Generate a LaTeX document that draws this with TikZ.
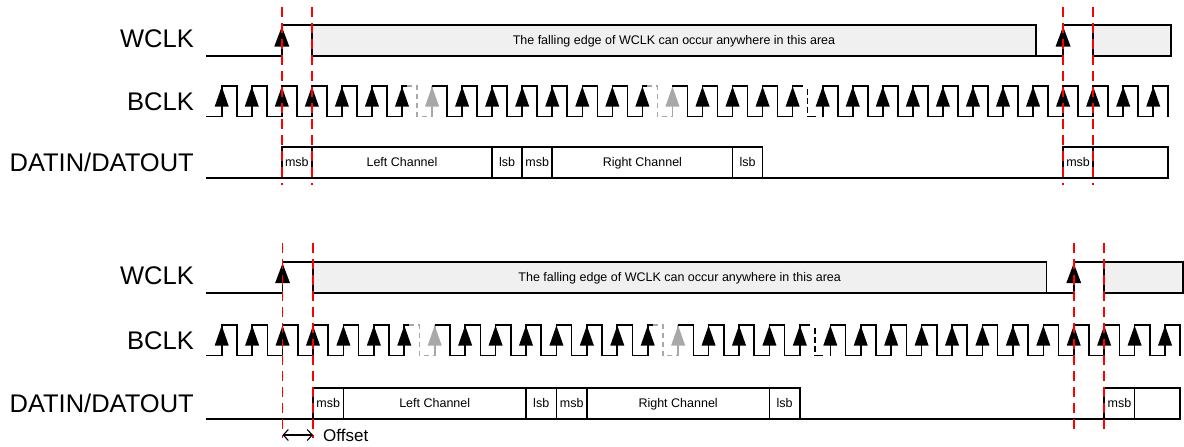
\documentclass[tikz,border=0pt]{standalone}
\usepackage{fontspec}
\setmainfont{Liberation Sans}
\usetikzlibrary{arrows.meta}
\definecolor{boxgray}{HTML}{F0F0F0}
\definecolor{ghost}{HTML}{A8A8A8}
\definecolor{guidered}{HTML}{FF0000}
\tikzset{
  wave/.style={line width=1.6pt, line join=miter, black},
  ghostwave/.style={line width=1.6pt, ghost, dash pattern=on 5pt off 4pt},
  brk/.style={line width=1.6pt, black, dash pattern=on 6pt off 3pt},
  guide/.style={draw=guidered, line width=1.5pt, dash pattern=on 10pt off 6pt},
  sig/.style={anchor=base east, font=\fontsize{25.5}{28}\selectfont, inner sep=0pt},
  small/.style={anchor=base, font=\fontsize{12.5}{14}\selectfont, inner sep=0pt},
  area/.style={wave, fill=boxgray},
}
\newcommand\upmark[4]{\fill[#4] (#1-#3,#2+20) -- (#1,#2) -- (#1+#3,#2+20) -- cycle;}
% #1 period, #2 WCLK high y, #3 BCLK high y, #4 DATA top y, #5 data start index,
% #6 guide top, #7 guide bottom (left), #8 guide bottom (right), #9 name suffix
\newcommand\timing[9]{%
\pgfmathsetmacro\tmP{#1}%
\pgfmathsetmacro\tmWl{#2+31}%
\pgfmathsetmacro\tmBl{#3+30.5}%
\pgfmathsetmacro\tmDl{#4+31}%
\pgfmathsetmacro\xWr{221.7+2*\tmP}%
\pgfmathsetmacro\xWf{221.7+3*\tmP}%
\pgfmathsetmacro\xWe{221.7+27.1*\tmP}%
\pgfmathsetmacro\xWrr{221.7+28*\tmP}%
\pgfmathsetmacro\xWff{221.7+29*\tmP}%
\pgfmathsetmacro\xWend{221.7+31.6*\tmP}%
\pgfmathsetmacro\xEnd{221.7+31.5*\tmP}%
% labels
\node[sig] (wl#9) at (194,#2+22.5) {WCLK};
\node[sig] (bl#9) at (194,#3+24.5) {BCLK};
\node[sig] (dl#9) at (194,#4+25) {DATIN/DATOUT};
% WCLK
\draw[wave] (206,\tmWl) -- (\xWr,\tmWl) -- (\xWr,#2) -- (\xWf,#2);
\draw[area] (\xWf,#2) rectangle (\xWe,\tmWl);
\node[small] (wt#9) at ({(\xWf+\xWe)/2},#2+20) {The falling edge of WCLK can occur anywhere in this area};
\draw[wave] (\xWe,\tmWl) -- (\xWrr,\tmWl) -- (\xWrr,#2) -- (\xWff,#2);
\draw[area] (\xWff,#2) rectangle (\xWend,\tmWl);
\upmark{\xWr}{#2+1.5}{7.5}{black}
\upmark{\xWrr}{#2+1.5}{7.5}{black}
% BCLK
\draw[wave] (206,\tmBl) -- (221.7,\tmBl);
\foreach \k in {0,...,31}{%
  \pgfmathsetmacro\xr{221.7+\k*\tmP}%
  \pgfmathsetmacro\xf{221.7+(\k+0.5)*\tmP}%
  \pgfmathsetmacro\xn{221.7+(\k+1)*\tmP}%
  \def\kind{n}%
  \ifnum\k=6 \def\kind{g}\fi
  \ifnum\k=14 \def\kind{g}\fi
  \ifnum\k=7 \def\kind{a}\fi
  \ifnum\k=15 \def\kind{a}\fi
  \ifnum\k=19 \def\kind{b}\fi
  \ifnum\k=31 \def\kind{e}\fi
  \if n\kind
    \draw[wave] (\xr,\tmBl) -- (\xr,#3) -- (\xf,#3) -- (\xf,\tmBl) -- (\xn,\tmBl);
    \upmark{\xr}{#3+0.5}{7}{black}
  \fi
  \if g\kind
    \draw[wave] (\xr,\tmBl) -- (\xr,#3) -- (\xr+5,#3);
    \draw[ghostwave] (\xr+5,#3) -- (\xf,#3) -- (\xf,\tmBl) -- (\xn,\tmBl);
    \draw[line width=1.6pt, ghost] (\xn,\tmBl) -- (\xn,#3);
    \upmark{\xr}{#3+0.5}{7}{black}
  \fi
  \if a\kind
    \draw[wave] (\xr,#3) -- (\xf,#3) -- (\xf,\tmBl) -- (\xn,\tmBl);
    \upmark{\xr}{#3+0.5}{7}{ghost}
  \fi
  \if b\kind
    \draw[wave] (\xr,\tmBl) -- (\xr,#3) -- (\xr+10,#3);
    \draw[brk] (\xf,#3+3) -- (\xf,\tmBl);
    \draw[wave] (\xf,\tmBl) -- (\xf+8,\tmBl);
    \upmark{\xr}{#3+0.5}{7}{black}
  \fi
  \if e\kind
    \draw[wave] (\xr,\tmBl) -- (\xr,#3) -- (\xf,#3) -- (\xf,\tmBl);
    \upmark{\xr}{#3+0.5}{7}{black}
  \fi
}
% DATA
\pgfmathsetmacro\xDs{221.7+#5*\tmP}%
\pgfmathsetmacro\xDe{221.7+(#5+16)*\tmP}%
\pgfmathsetmacro\xRs{221.7+(#5+26)*\tmP}%
\draw[wave] (206,\tmDl) -- (\xDs,\tmDl);
\foreach \a/\b/\t in {0/1/msb, 1/7/Left Channel, 7/8/lsb, 8/9/msb, 9/15/Right Channel, 15/16/lsb}{%
  \pgfmathsetmacro\xa{221.7+(#5+\a)*\tmP}%
  \pgfmathsetmacro\xb{221.7+(#5+\b)*\tmP}%
  \draw[wave] (\xa,#4) rectangle (\xb,\tmDl);
  \node[small] (d#9\a) at ({(\xa+\xb)/2},#4+20) {\t};
}
\draw[wave] (\xDe,\tmDl) -- (\xRs,\tmDl);
\pgfmathsetmacro\xRm{221.7+(#5+27)*\tmP}%
\draw[wave] (\xRs,#4) rectangle (\xRm,\tmDl);
\draw[wave] (\xRm,#4) rectangle (\xEnd,\tmDl);
\node[small] (rm#9) at ({(\xRs+\xRm)/2},#4+20) {msb};
% guides
\draw[guide] (\xWr,#6) -- (\xWr,#7);
\draw[guide] (\xWf,#6) -- (\xWf,#7);
\draw[guide] (\xWrr,#6) -- (\xWrr,#8);
\draw[guide] (\xWff,#6) -- (\xWff,#8);
}
\begin{document}
\begin{tikzpicture}[x=1pt,y=-1pt]
\useasboundingbox (0,0) rectangle (1184,447);
\fill[white] (0,0) rectangle (1184,447);
\timing{30.05}{25}{86}{146.7}{2}{7}{185}{185}{t}
\timing{30.43}{261.7}{325}{387.7}{3}{243}{438}{430}{b}
\coordinate (offA) at (221.7+2*30.43,435);
\coordinate (offB) at (221.7+3*30.43,435);
\draw[line width=1.1pt, {Straight Barb[length=5pt,width=11pt]}-{Straight Barb[length=5pt,width=11pt]}] (offA) -- (offB);
\node[anchor=base west, font=\fontsize{17}{20}\selectfont, inner sep=0pt] (offt) at (323,441) {Offset};
\end{tikzpicture}
\end{document}
